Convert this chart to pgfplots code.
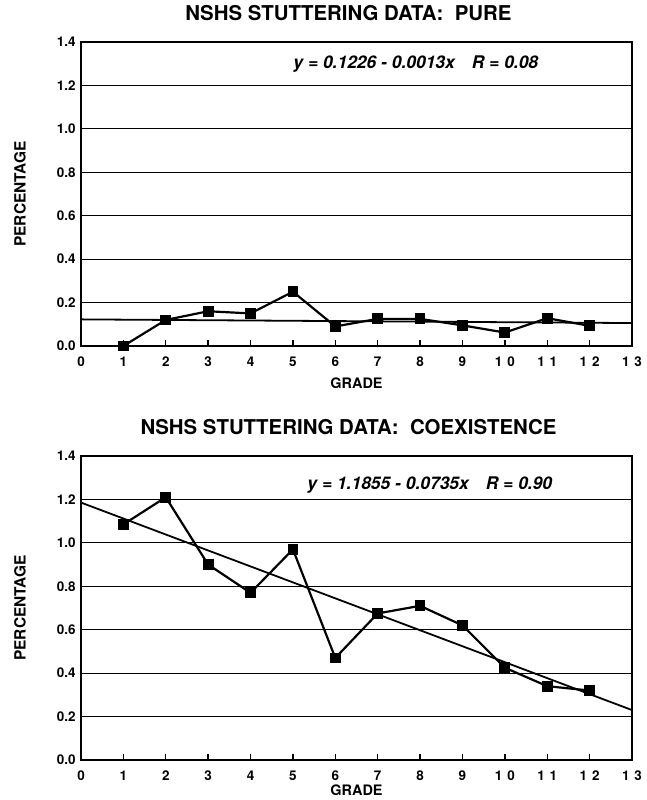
\documentclass[border=0pt]{standalone}
\usepackage{pgfplots}
\pgfplotsset{compat=1.18}
\usepackage{fontspec}
\setmainfont{TeX Gyre Heros}
\pgfplotsset{
  sttstyle/.style={
    scale only axis,
    width=551bp, height=304bp,
    xmin=0, xmax=13, ymin=0, ymax=1.4,
    axis line style={line width=1.8pt},
    xtick={0,...,13},
    xticklabels={0,1,2,3,4,5,6,7,8,9,{1\hspace{5pt}0},{1\hspace{5pt}1},{1\hspace{5pt}2},{1\hspace{5pt}3}},
    ytick={0,0.2,0.4,0.6,0.8,1.0,1.2,1.4},
    yticklabels={0.0,0.2,0.4,0.6,0.8,1.0,1.2,1.4},
    xtick pos=bottom, ytick pos=left,
    tick align=inside,
    x tick style={line width=1.4pt, black},
    major tick length=6bp,
    y tick style={draw=none},
    ymajorgrids,
    grid style={line width=1.2pt, black},
    tick label style={font=\fontsize{13.5}{15}\selectfont\bfseries},
    yticklabel style={xshift=-2bp},
    xticklabel style={yshift=-7bp},
    xlabel style={font=\fontsize{14.5}{17}\selectfont\bfseries, anchor=center},
    ylabel style={font=\fontsize{15.5}{17}\selectfont\bfseries, anchor=center, at={(axis description cs:-0.1107,0.5)}},
    title style={font=\fontsize{20.5}{23}\selectfont\bfseries, anchor=center, yshift=23bp, xshift=-8bp},
    xlabel={GRADE},
    ylabel={PERCENTAGE},
    clip=false,
  }
}
\begin{document}
\begin{tikzpicture}
\begin{axis}[sttstyle, at={(0,0)}, anchor=south west,
  xlabel style={at={(axis description cs:0.5,-0.122)}},
  title={NSHS STUTTERING DATA:\ \ PURE}]
\addplot[black, line width=2.2pt, mark=square*, mark size=4.3pt] coordinates {
(1,0.00) (2,0.12) (3,0.16) (4,0.15) (5,0.25) (6,0.09) (7,0.125) (8,0.125) (9,0.095) (10,0.062) (11,0.128) (12,0.093)};
\addplot[black, line width=1.8pt] coordinates {(0,0.1226) (13,0.1057)};
\node[font=\fontsize{17.5}{20}\selectfont\bfseries\itshape] at (axis cs:7.9,1.30) {y = 0.1226 - 0.0013x\hspace{17pt}R = 0.08};
\end{axis}
\begin{axis}[sttstyle, at={(0,-414bp)}, anchor=south west,
  xlabel style={at={(axis description cs:0.5,-0.100)}},
  title={NSHS STUTTERING DATA:\ \ COEXISTENCE}]
\addplot[black, line width=2.2pt, mark=square*, mark size=4.3pt] coordinates {
(1,1.085) (2,1.21) (3,0.90) (4,0.77) (5,0.97) (6,0.47) (7,0.675) (8,0.71) (9,0.62) (10,0.425) (11,0.34) (12,0.32)};
\addplot[black, line width=1.8pt] coordinates {(0,1.1855) (13,0.2300)};
\node[font=\fontsize{17.5}{20}\selectfont\bfseries\itshape] at (axis cs:8.23,1.265) {y = 1.1855 - 0.0735x\hspace{17pt}R = 0.90};
\end{axis}
\pgfresetboundingbox
\path (-81bp,346bp) rectangle (566bp,-454bp);
\end{tikzpicture}
\end{document}
